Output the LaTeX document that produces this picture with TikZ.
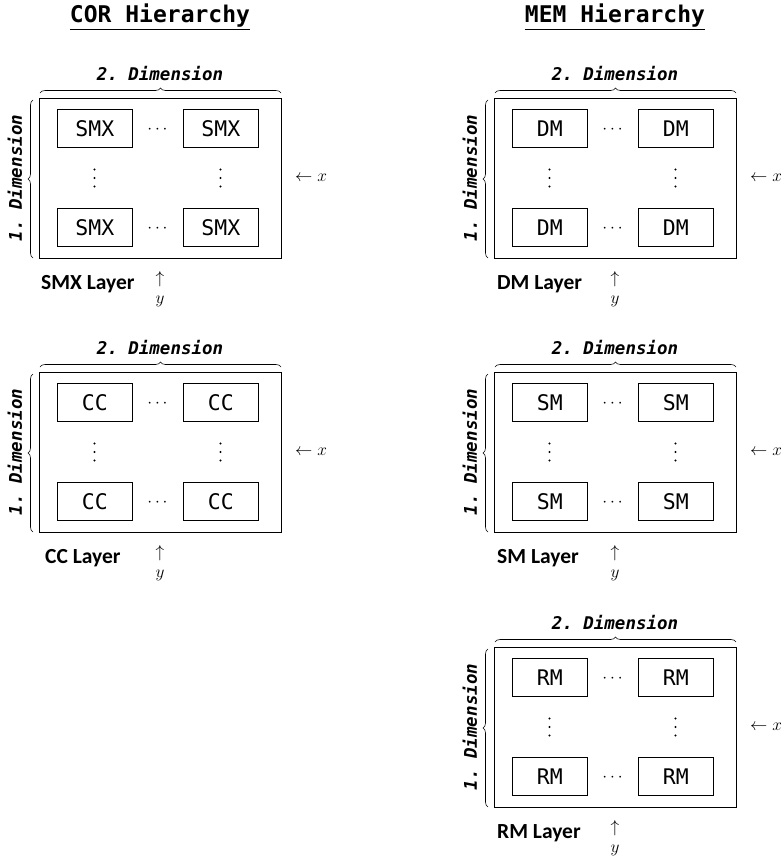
\documentclass[tikz,border=0pt]{standalone}
\usepackage{fontspec}
\setmonofont{DejaVu Sans Mono}
\newfontfamily\layerfont{Carlito}
\usetikzlibrary{decorations.pathreplacing}

\tikzset{
  frame/.style={draw, line width=1.2pt},
  unit/.style={draw, line width=0.8pt, minimum width=75pt, minimum height=38pt,
    inner sep=0pt, anchor=north west, font=\ttfamily\fontsize{21.5}{24}\selectfont},
  heading/.style={font=\ttfamily\bfseries\fontsize{23}{26}\selectfont},
  dimlabel/.style={font=\ttfamily\bfseries\itshape\fontsize{17.5}{20}\selectfont, inner sep=0pt},
  dimbrace/.style={decorate, decoration={brace, amplitude=5pt}, line width=0.6pt},
  layerlabel/.style={font=\layerfont\bfseries\fontsize{21.5}{24}\selectfont, anchor=west, inner sep=0pt},
  mathlabel/.style={font=\fontsize{18}{20}\selectfont, inner sep=0pt},
  dotsym/.style={font=\fontsize{19}{20}\selectfont, inner sep=0pt, anchor=base},
}

% One layer: a frame holding a 2x2 grid of units with ellipses,
% dimension braces, axis markers and the layer's name.
% #1 prefix, #2 x, #3 y, #4 unit text, #5 layer name, #6 name offset
\newcommand\layerpanel[6]{%
  \begin{scope}[shift={(#2,#3)}]
    \node[frame, minimum width=242pt, minimum height=160pt, inner sep=0pt, anchor=north west]
      (#1frame) at (0,0) {};
    \node[unit] (#1a) at (18,11) {#4};
    \node[unit] (#1b) at (144,11) {#4};
    \node[unit] (#1c) at (18,110) {#4};
    \node[unit] (#1d) at (144,110) {#4};
    \node[dotsym] (#1h1) at (118.5,35.5) {$\cdots$};
    \node[dotsym] (#1h2) at (118.5,134) {$\cdots$};
    \foreach \vx/\vn in {55.5/v1,181.5/v2} {
      \coordinate (#1\vn) at (\vx,80);
      \foreach \dy in {-8.5,0,8.5}
        \fill ([yshift=-\dy pt]#1\vn) circle (1.15pt);
    }
    \coordinate (#1tl) at (1,-5);
    \coordinate (#1tr) at (242,-5);
    \draw[dimbrace] (#1tl) -- (#1tr);
    \node[dimlabel] (#1dim2) at (121,-24) {2. Dimension};
    \coordinate (#1lb) at (-6,160);
    \coordinate (#1lt) at (-6,2);
    \draw[dimbrace] (#1lb) -- (#1lt);
    \node[dimlabel, rotate=90] (#1dim1) at (-24,80) {1. Dimension};
    \node[mathlabel, anchor=west] (#1x) at (256,80) {$\leftarrow x$};
    \node[mathlabel] (#1up) at (121,181) {$\uparrow$};
    \node[mathlabel] (#1y) at (121,203) {$y$};
    \node[layerlabel] (#1name) at (#6,186) {#5};
  \end{scope}%
}

\begin{document}
\begin{tikzpicture}[x=1pt, y=-1pt]
  \useasboundingbox (0,0) rectangle (781,860);

  \node[heading] (cortitle) at (160,17) {\underline{COR Hierarchy}};
  \node[heading] (memtitle) at (615,17) {\underline{MEM Hierarchy}};

  \layerpanel{smx}{39}{98}{SMX}{SMX Layer}{2}
  \layerpanel{cc}{39}{372}{CC}{CC Layer}{6}

  \layerpanel{dm}{494}{98}{DM}{DM Layer}{3}
  \layerpanel{sm}{494}{372}{SM}{SM Layer}{3}
  \layerpanel{rm}{494}{647}{RM}{RM Layer}{3}
\end{tikzpicture}
\end{document}
